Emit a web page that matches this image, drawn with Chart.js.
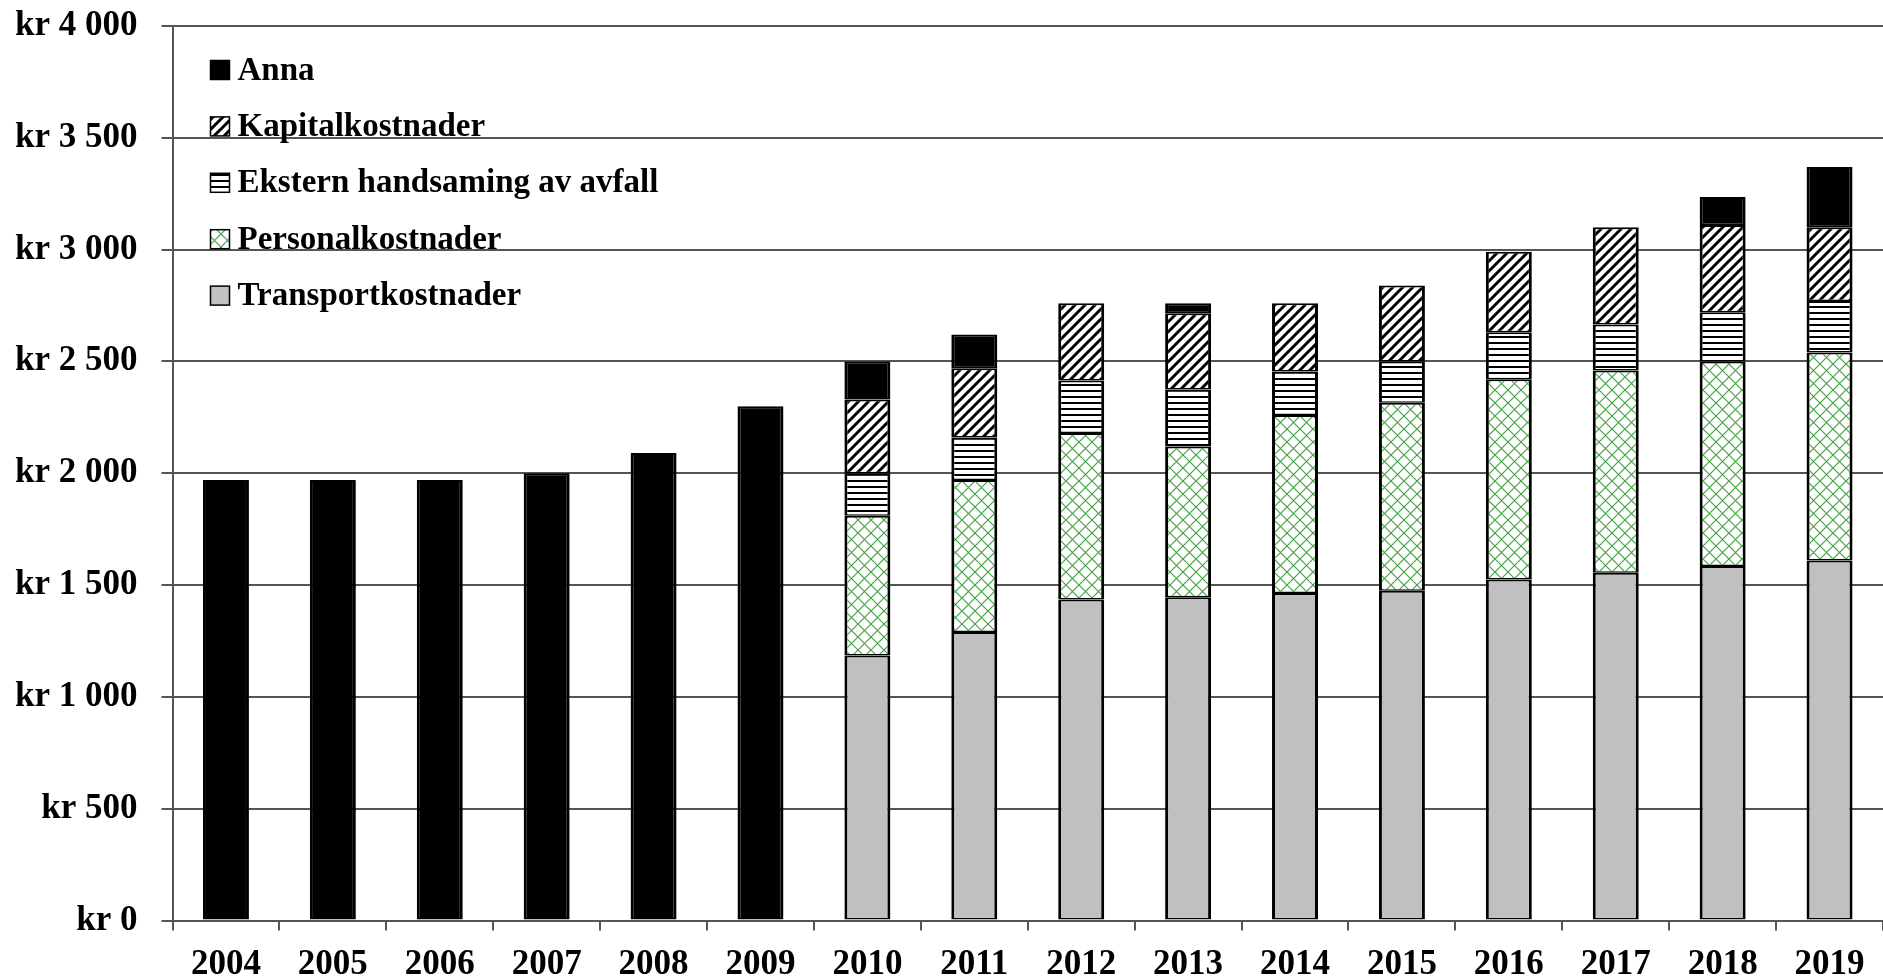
<!DOCTYPE html>
<html>
<head>
<meta charset="utf-8">
<script src="https://cdn.jsdelivr.net/npm/chart.js@4"></script>
<style>
  html, body { margin: 0; padding: 0; background: #fff; }
  #wrap { width: 1883px; height: 980px; }
</style>
</head>
<body>
<div id="wrap"><canvas id="myChart"></canvas></div>
<script>
const years = ['2004', '2005', '2006', '2007', '2008', '2009', '2010', '2011', '2012', '2013', '2014', '2015', '2016', '2017', '2018', '2019'];

// kostnader per år (kr), nedste del først
const transport = [null, null, null, null, null, null, 1185, 1290, 1435, 1445, 1465, 1475, 1525, 1555, 1585, 1610];
const personal  = [null, null, null, null, null, null, 625, 680, 745, 675, 795, 840, 895, 905, 915, 930];
const ekstern   = [null, null, null, null, null, null, 190, 190, 235, 255, 195, 185, 210, 205, 220, 230];
const kapital   = [null, null, null, null, null, null, 330, 310, 345, 340, 305, 340, 360, 435, 390, 330];
const anna      = [1970, 1970, 1970, 2000, 2090, 2300, 170, 150, 0, 45, 0, 0, 0, 0, 125, 270];

const yTicks = [0, 500, 1000, 1500, 2000, 2500, 3000, 3500, 4000];

const FONT = "'Liberation Serif', 'Times New Roman', serif";

// mønster for stolpane
const makePattern = (size, draw) => {
  const c = document.createElement('canvas');
  c.width = size;
  c.height = size;
  const g = c.getContext('2d');
  g.fillStyle = '#fff';
  g.fillRect(0, 0, size, size);
  draw(g, size);
  return c.getContext('2d').createPattern(c, 'repeat');
};

const diagPattern = makePattern(10, (g, s) => {
  g.strokeStyle = '#000';
  g.lineWidth = 3;
  g.beginPath();
  g.moveTo(-2, s + 2); g.lineTo(s + 2, -2);
  g.moveTo(-2, 2); g.lineTo(2, -2);
  g.moveTo(s - 2, s + 2); g.lineTo(s + 2, s - 2);
  g.stroke();
});

const lines = makePattern(6, (g, s) => {
  g.fillStyle = '#000';
  g.fillRect(0, 0, s, 2);
});

const cross = makePattern(13, (g, s) => {
  g.strokeStyle = '#45a345';
  g.lineWidth = 1.2;
  g.beginPath();
  g.moveTo(0, 0); g.lineTo(s, s);
  g.moveTo(s, 0); g.lineTo(0, s);
  g.stroke();
});

const fmtKr = (v) => 'kr ' + String(v).replace(/\B(?=(\d{3})+(?!\d))/g, ' ');

const seg = { top: 2, bottom: 1.5, left: 3, right: 3 };

const insideLegend = {
  id: 'insideLegend',
  afterDraw(chart) {
    const ctx = chart.ctx;
    const x = chart.chartArea.left + 38;
    const sets = chart.data.datasets.slice().reverse();
    ctx.save();
    sets.forEach((ds, i) => {
      const y = 70 + i * 56.4;
      ctx.fillStyle = ds.backgroundColor;
      ctx.fillRect(x, y - 9.5, 19, 19);
      ctx.strokeStyle = '#000';
      ctx.lineWidth = 1.5;
      ctx.strokeRect(x, y - 9.5, 19, 19);
      ctx.fillStyle = '#000';
      ctx.font = 'bold 33px ' + FONT;
      ctx.textBaseline = 'middle';
      ctx.textAlign = 'left';
      ctx.fillText(ds.label, x + 27, y + 1);
    });
    ctx.restore();
  }
};

const ctx = document.getElementById('myChart').getContext('2d');

new Chart(ctx, {
  type: 'bar',
  data: {
    labels: years,
    datasets: [
      { label: 'Transportkostnader', data: transport, backgroundColor: '#c0c0c0' },
      { label: 'Personalkostnader', data: personal, backgroundColor: cross },
      { label: 'Ekstern handsaming av avfall', data: ekstern, backgroundColor: lines },
      { label: 'Kapitalkostnader', data: kapital, backgroundColor: diagPattern },
      { label: 'Anna', data: anna, backgroundColor: '#000' }
    ].map(d => Object.assign(d, {
      borderColor: '#000',
      borderWidth: seg,
      borderSkipped: false,
      barPercentage: 0.43,
      categoryPercentage: 1
    }))
  },
  options: {
    responsive: true,
    maintainAspectRatio: false,
    animation: false,
    layout: { padding: { left: -9, right: 0, top: 26, bottom: -19 } },
    plugins: {
      legend: { display: false },
      tooltip: { enabled: false }
    },
    scales: {
      x: {
        stacked: true,
        grid: {
          display: true,
          drawOnChartArea: false,
          drawTicks: true,
          tickLength: 10,
          color: '#555',
          lineWidth: 2
        },
        border: { color: '#555', width: 2 },
        ticks: {
          color: '#000',
          padding: 15,
          font: { family: FONT, size: 35, weight: 'bold', lineHeight: 1.1 }
        }
      },
      y: {
        stacked: true,
        min: 0,
        max: 4000,
        afterBuildTicks: (axis) => { axis.ticks = yTicks.map(v => ({ value: v })); },
        grid: {
          color: '#555',
          lineWidth: 2,
          drawTicks: true,
          tickLength: 11
        },
        border: { color: '#555', width: 2 },
        ticks: {
          color: '#000',
          padding: 24,
          callback: (v) => fmtKr(v),
          font: { family: FONT, size: 35, weight: 'bold', lineHeight: 0.05 }
        }
      }
    }
  },
  plugins: [insideLegend]
});
</script>
</body>
</html>
